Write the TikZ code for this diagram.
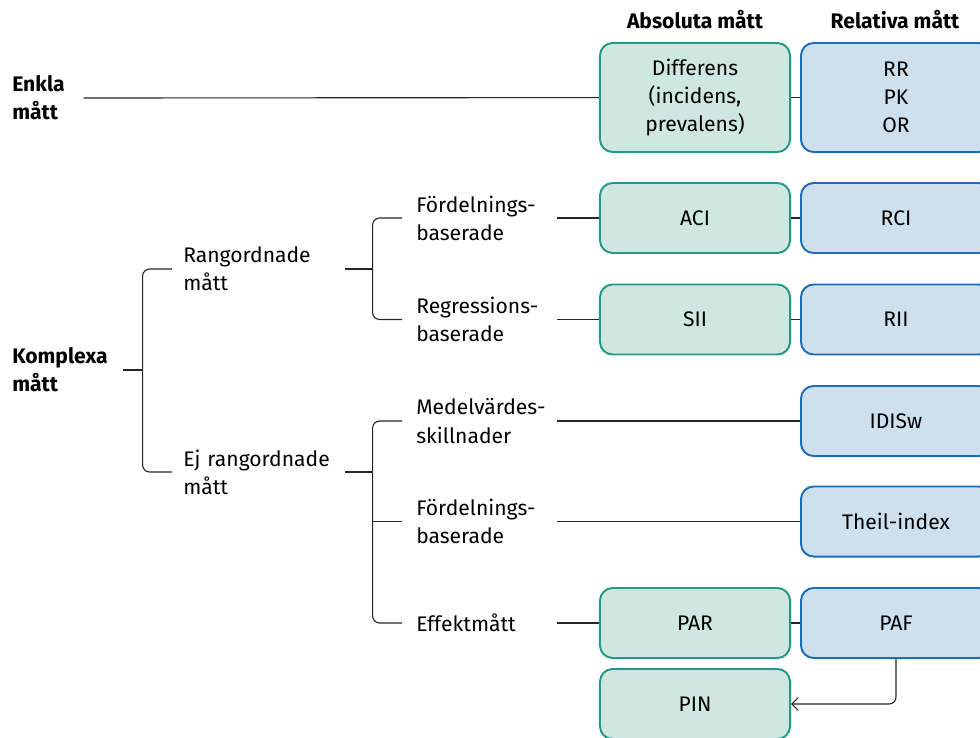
\documentclass[tikz,border=0pt]{standalone}
\usepackage{fontspec}
\setmainfont{Fira Sans}
\usetikzlibrary{arrows.meta,positioning}
\definecolor{absFill}{RGB}{207,231,225}
\definecolor{absLine}{RGB}{36,152,132}
\definecolor{relFill}{RGB}{206,224,238}
\definecolor{relLine}{RGB}{28,108,182}

\begin{document}
\begin{tikzpicture}[x=0.025cm,y=-0.025cm,>={Straight Barb[length=1.6mm]},
  txt/.style={font=\fontsize{15}{20}\selectfont},
  lbl/.style={txt,anchor=west,align=left,inner sep=0pt},
  hdr/.style={font=\fontsize{15}{20}\selectfont\bfseries},
  mbox/.style={txt,draw,rounded corners=9pt,line width=1.4pt,minimum width=4.75cm,
    minimum height=1.75cm,align=center},
  abox/.style={mbox,draw=absLine,fill=absFill},
  rbox/.style={mbox,draw=relLine,fill=relFill},
  ln/.style={line width=0.8pt,black!85}]
\useasboundingbox (0,0) rectangle (980,737);
\clip (0,0) rectangle (980,737);
% column heads
\node[hdr] (habs) at (695,20) {Absoluta mått};
\node[hdr] (hrel) at (895,20) {Relativa mått};
% measure boxes
\node[abox,minimum height=2.725cm] (diff) at (695,97.5) {Differens\\(incidens,\\prevalens)};
\node[rbox,minimum height=2.725cm] (rr) at (896,97.5) {RR\\PK\\OR};
\node[abox] (aci) at (695,218) {ACI};
\node[rbox] (rci) at (896,218) {RCI};
\node[abox] (sii) at (695,319.5) {SII};
\node[rbox] (rii) at (896,319.5) {RII};
\node[rbox] (idisw) at (896,421) {IDISw};
\node[rbox] (theil) at (896,521.5) {Theil-index};
\node[abox] (par) at (695,623) {PAR};
\node[rbox] (paf) at (896,623) {PAF};
\node[abox] (pin) at (695,704) {PIN};
% tree labels
\node[lbl,font=\fontsize{15}{20}\selectfont\bfseries,text width=1.775cm] (enkla) at (12,98) {Enkla\\mått};
\node[lbl,font=\fontsize{15}{20}\selectfont\bfseries,text width=2.75cm] (komplexa) at (12,370) {Komplexa\\mått};
\node[lbl,text width=4.025cm] (rang) at (183,269) {Rangordnade\\mått};
\node[lbl,text width=4.025cm] (ejrang) at (183,472) {Ej rangordnade\\mått};
\node[lbl,text width=3.5cm] (fordel1) at (416,218) {Fördelnings-\\baserade};
\node[lbl,text width=3.5cm] (regr) at (416,319.5) {Regressions-\\baserade};
\node[lbl,text width=3.5cm] (medel) at (416,421) {Medelvärdes-\\skillnader};
\node[lbl,text width=3.5cm] (fordel2) at (416,521.5) {Fördelnings-\\baserade};
\node[lbl,text width=3.5cm] (effekt) at (416,623) {Effektmått};
% junctions
\coordinate (j1) at ([xshift=0.5cm]komplexa.east);
\coordinate (j2a) at ([xshift=0.7cm]rang.east);
\coordinate (j2b) at ([xshift=0.7cm]ejrang.east);
% brackets
\draw[ln] (komplexa.east) -- (j1);
\draw[ln,rounded corners=5pt] ([xshift=-0.275cm]rang.west) -| (j1) |- ([xshift=-0.275cm]ejrang.west);
\draw[ln] (rang.east) -- (j2a);
\draw[ln,rounded corners=5pt] ([xshift=-0.35cm]fordel1.west) -| (j2a) |- ([xshift=-0.35cm]regr.west);
\draw[ln] (ejrang.east) -- (j2b);
\draw[ln,rounded corners=5pt] ([xshift=-0.35cm]medel.west) -| (j2b) |- ([xshift=-0.35cm]effekt.west);
\draw[ln] (j2b |- fordel2) -- ([xshift=-0.35cm]fordel2.west);
% label to box
\draw[ln] (enkla.east) -- (diff);
\draw[ln] (diff) -- (rr);
\draw[ln] (fordel1.east) -- (aci);
\draw[ln] (aci) -- (rci);
\draw[ln] (regr.east) -- (sii);
\draw[ln] (sii) -- (rii);
\draw[ln] (medel.east) -- (idisw);
\draw[ln] (fordel2.east) -- (theil);
\draw[ln] (effekt.east) -- (par);
\draw[ln] (par) -- (paf);
\draw[ln,->,rounded corners=5pt] (paf.south) |- (pin.east);
\end{tikzpicture}
\end{document}
